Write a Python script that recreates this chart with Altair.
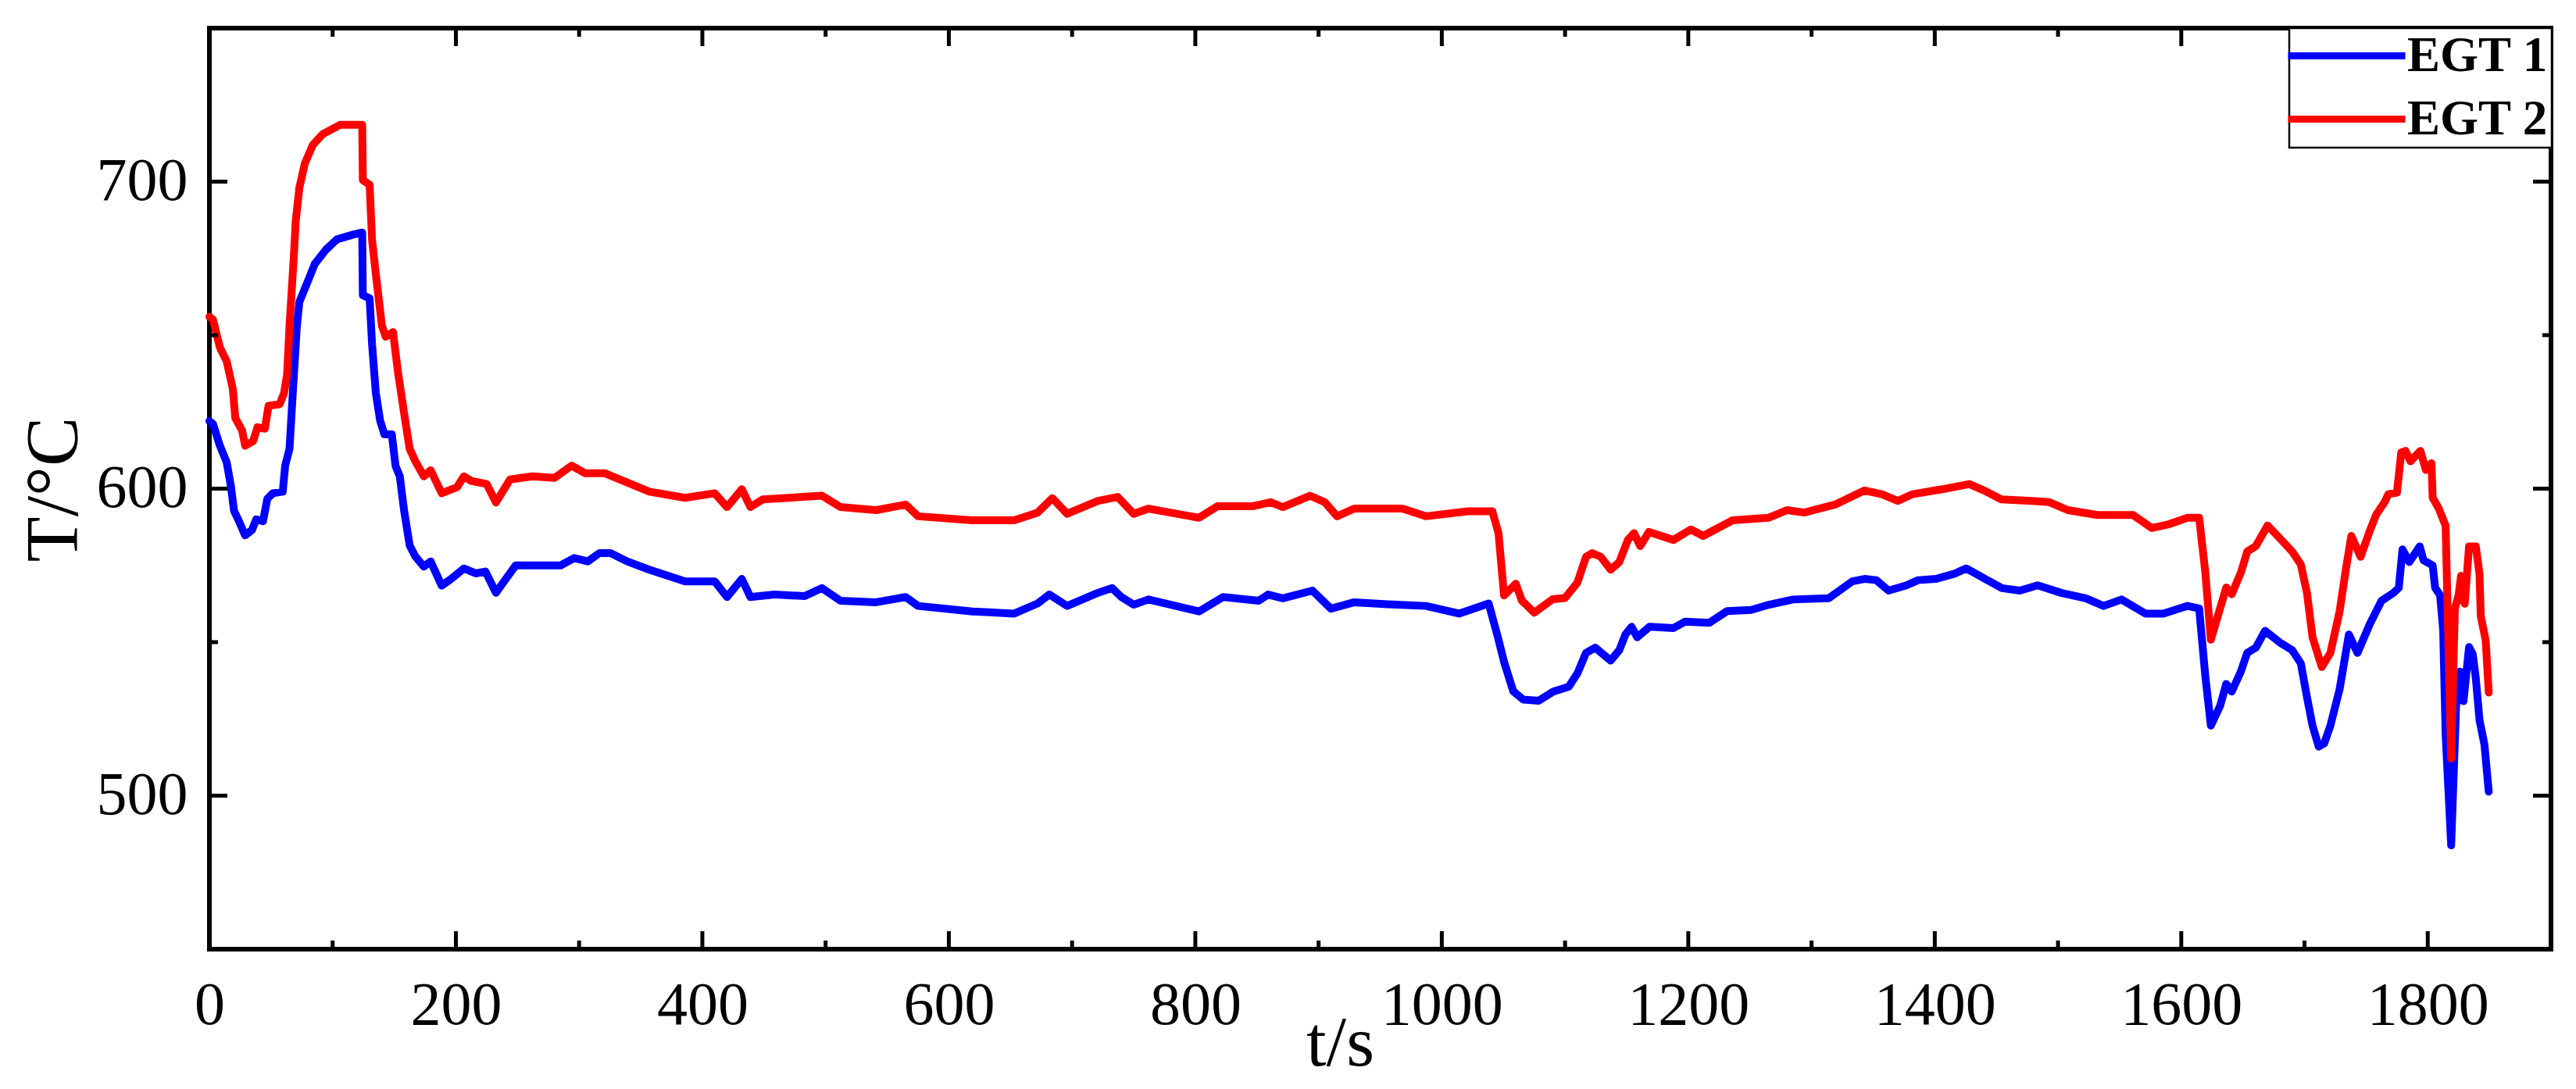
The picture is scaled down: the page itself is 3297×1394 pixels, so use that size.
import altair as alt
import pandas as pd

# ---- data ----
T1 = [0, 3, 8.5, 14, 17.5, 20, 24, 29, 34.5, 38,
      43.5, 47, 51.5, 59.5, 61.5, 65, 67.5, 71, 73, 81,
      85.5, 94.5, 103.5, 117, 124, 124.5, 130, 132, 135, 138.5,
      142, 148, 151, 154.5, 158, 162.5, 167, 174, 179.5, 188.5,
      196.5, 206.5, 216, 224, 232.5, 239.5, 248.5, 285, 296, 307,
      316.5, 325.5, 339, 357, 386, 410, 420, 432, 439, 458.5,
      483, 497, 512, 541, 565, 575, 619, 653, 672, 681.5,
      696, 720.5, 732.5, 740, 750, 762, 803, 822.5, 851.5, 859,
      871, 895, 910, 929, 963, 987, 1014, 1038, 1045.5, 1050.5,
      1058, 1066, 1078.5, 1090.5, 1103, 1110, 1117, 1124.5, 1137, 1144,
      1149, 1154, 1158.5, 1168.5, 1188, 1197.5, 1217, 1231.5, 1251, 1265.5,
      1285, 1314, 1333, 1343, 1352.5, 1362.5, 1377, 1386.5, 1401, 1416,
      1425.5, 1435, 1454.5, 1469, 1483.5, 1503, 1522.5, 1537, 1551.5, 1571,
      1585.5, 1605, 1614.5, 1619.5, 1624, 1631.5, 1636.5, 1641, 1648.5, 1653.5,
      1660.5, 1668, 1680, 1690, 1697, 1702, 1706.5, 1711.5, 1716, 1721,
      1728.5, 1736, 1743, 1753, 1762.5, 1772, 1776.5, 1779.5, 1785, 1793.5,
      1796.5, 1804, 1806, 1810, 1812.5, 1814.5, 1819, 1823, 1826, 1829,
      1833.5, 1836.5, 1839, 1842, 1846, 1849.5]
EGT1 = [622, 621, 614, 608.6, 600.7, 592.8, 589.4, 584.8, 586.5, 590,
        589.4, 596.7, 598.5, 599, 607.5, 613, 630, 653, 660.8, 668.7,
        673.2, 677.8, 681.2, 682.8, 683.4, 663, 662, 647, 631.3, 622.2,
        617.7, 617.7, 607.5, 604, 592.8, 581.5, 578, 574.6, 576.3, 568.4,
        570.7, 574, 572.4, 573, 566.1, 570, 575, 575, 577.4, 576.3,
        579, 579, 576.3, 573.6, 569.8, 569.8, 564.7, 570.6, 564.7, 565.5,
        565, 567.6, 563.5, 563, 564.7, 561.8, 560, 559.3, 562.6, 565.5,
        561.8, 566, 567.6, 564.7, 562.2, 563.9, 560, 564.7, 563.5, 565.5,
        564.3, 566.8, 560.9, 563, 562.2, 561.8, 559.3, 562.6, 551.6, 543.6,
        534, 531.3, 530.9, 533.9, 535.5, 539.8, 546.5, 548.2, 544, 547.4,
        552.5, 555, 551.6, 555, 554.6, 556.7, 556.3, 560.1, 560.5, 562.2,
        563.9, 564.3, 569.8, 570.6, 570.2, 566.8, 568.5, 570.2, 570.6, 572.3,
        574, 571.9, 567.6, 566.8, 568.5, 566, 564.3, 561.8, 563.9, 559.3,
        559.3, 561.8, 561, 539, 522.8, 529.2, 536.4, 533.9, 540.6, 546.5,
        548.2, 553.7, 549.9, 547.4, 543.1, 532.1, 522.8, 516, 517, 522.8,
        534.7, 552.5, 546.5, 555.9, 563.5, 566, 567.7, 580.2, 576.1, 581.2,
        576.7, 575, 567.7, 565.3, 554, 520, 483.8, 529.1, 540.4, 530.8,
        548.4, 546.1, 538.2, 524.6, 516.6, 501.3]

T2 = [0, 3, 8.5, 14, 19, 21, 26.5, 29, 35.5, 39,
      45, 48, 57, 60.5, 63, 65, 68.5, 70, 73, 77.5,
      84, 92, 106, 124, 124.5, 130, 132, 135, 140, 143,
      149, 153, 158, 162.5, 167, 174, 179.5, 188.5, 201, 206.5,
      212.5, 225, 232.5, 244, 262, 280, 294, 305, 321, 339,
      357, 386, 410, 420, 432, 439, 449, 497, 512, 541,
      565, 575, 619, 653, 672, 684, 696, 721, 737, 750,
      762, 803, 818, 847, 861, 871, 893, 905, 915, 929,
      968, 987, 1021, 1041, 1046, 1050.5, 1060, 1065, 1075, 1090,
      1100, 1110, 1117, 1122, 1129, 1137, 1144, 1151, 1156, 1161,
      1168, 1188, 1202, 1212, 1236, 1265, 1280, 1294, 1319, 1343,
      1357, 1370, 1382, 1406, 1428, 1440, 1454, 1479, 1493, 1508,
      1532, 1547, 1561, 1576, 1590, 1605, 1614.5, 1619.5, 1624, 1631.5,
      1636.5, 1641, 1648.5, 1653.5, 1660.5, 1670, 1680, 1690, 1697, 1702,
      1706.5, 1714, 1721, 1728.5, 1733.5, 1738, 1745.5, 1753, 1758, 1765,
      1768, 1775, 1778.5, 1782, 1786, 1794, 1798.5, 1803, 1804, 1809,
      1814.5, 1816.5, 1819, 1822, 1825, 1827, 1830, 1833.5, 1839, 1842,
      1843, 1847, 1849.5]
EGT2 = [656, 655, 646, 641.5, 632.5, 623, 619, 614, 615.5, 620,
        619.5, 627, 627.5, 631, 637, 653, 675.5, 687, 698, 706,
        712, 715.5, 718.5, 718.5, 700.5, 699, 681, 670, 653, 649.5,
        651, 638, 624.5, 613, 609, 604, 606, 598.5, 600.5, 604,
        602.5, 601.5, 595.5, 603, 604, 603.5, 607.5, 605, 605, 602,
        599, 597, 598.5, 594, 599.8, 594, 596.5, 597.7, 594, 593,
        594.8, 591, 589.7, 589.7, 592.2, 596.9, 591.8, 596, 597.3, 591.8,
        593.5, 590.5, 594.3, 594.3, 595.6, 594, 597.7, 595.6, 591, 593.5,
        593.5, 591, 592.6, 592.6, 585.5, 565.2, 569, 563.5, 559.6, 564,
        564.4, 569.4, 577.8, 579, 577.8, 573.6, 576.1, 583.3, 585.5, 581.3,
        585.9, 583.3, 586.7, 584.6, 589.7, 590.5, 593, 592.2, 594.8, 599.4,
        598.2, 596, 598.2, 599.8, 601.5, 599.4, 596.5, 596, 595.6, 593,
        591.4, 591.4, 591.4, 587.2, 588.4, 590.5, 590.5, 572.8, 550.8, 561,
        567.8, 565.6, 572.8, 579.5, 581.3, 588, 583.8, 579.5, 575.3, 566,
        551.6, 541.9, 546.5, 560.1, 573.6, 584.6, 577.8, 586.3, 591.4, 595.6,
        598.2, 598.7, 611.8, 612.3, 608.9, 612.3, 606.1, 608.3, 597, 593.5,
        587.9, 554, 512.1, 560.8, 565.3, 571.6, 562.5, 581.2, 581.2, 572.1,
        558.5, 550.6, 533.6]

SERIES = ["EGT 1", "EGT 2"]
COLORS = ["#0000ff", "#ff0000"]

X_MAJOR = [0, 200, 400, 600, 800, 1000, 1200, 1400, 1600, 1800]
X_MINOR = [100, 300, 500, 700, 900, 1100, 1300, 1500, 1700, 1900]
Y_MAJOR = [500, 600, 700]
Y_MINOR = [450, 550, 650, 750]
X_DOMAIN = [0, 1900]
Y_DOMAIN = [450, 750]

# ---- layout / style ----
W, H = 2997, 1179
FONT = "Liberation Serif"
MAJ, MIN = 23, 11

df = pd.concat([
    pd.DataFrame({"t": T1, "T": EGT1, "series": SERIES[0]}),
    pd.DataFrame({"t": T2, "T": EGT2, "series": SERIES[1]}),
], ignore_index=True)

xs = alt.Scale(domain=X_DOMAIN, nice=False, zero=False)
ys = alt.Scale(domain=Y_DOMAIN, nice=False, zero=False)

x_axis = alt.Axis(
    values=X_MAJOR, format="d", ticks=False, domain=False, grid=False,
    labelFont=FONT, labelFontSize=78, labelPadding=33, labelColor="black",
    labelFlush=False, labelOverlap=False,
    title="t/s", titleFont=FONT, titleFontSize=92, titleFontWeight="normal",
    titleColor="black", titleX=1447, titleY=148, titleAlign="center",
    titleBaseline="alphabetic")
y_axis = alt.Axis(
    values=Y_MAJOR, format="d", ticks=False, domain=False, grid=False,
    labelFont=FONT, labelFontSize=78, labelPadding=28, labelColor="black",
    labelFlush=False, labelOverlap=False,
    title="T/°C", titleFont=FONT, titleFontSize=95, titleFontWeight="normal",
    titleColor="black", titleAngle=270, titleX=-199, titleY=590,
    titleAlign="center", titleBaseline="middle")

lines = alt.Chart(df).mark_line(strokeWidth=10, strokeJoin="round", strokeCap="round").encode(
    x=alt.X("t:Q", scale=xs, axis=x_axis),
    y=alt.Y("T:Q", scale=ys, axis=y_axis),
    color=alt.Color("series:N", scale=alt.Scale(domain=SERIES, range=COLORS),
                    legend=alt.Legend(
                        title=None, orient="none", legendX=2662, legendY=0,
                        direction="vertical", symbolType="M-1,0H5", symbolSize=2500,
                        symbolStrokeWidth=9, symbolOffset=-12,
                        labelFont=FONT, labelFontSize=63, labelFontWeight="bold",
                        labelColor="black", labelOffset=96, labelLimit=600,
                        padding=4, rowPadding=17, fillColor="white",
                        strokeColor="black")),
)


def xticks(vals, y0, y1):
    return alt.Chart(pd.DataFrame({"t": vals})).mark_rule(color="black", strokeWidth=5).encode(
        x=alt.X("t:Q", scale=xs, axis=x_axis), y=alt.value(y0), y2=alt.value(y1))


def yticks(vals, x0, x1):
    return alt.Chart(pd.DataFrame({"T": vals})).mark_rule(color="black", strokeWidth=5).encode(
        y=alt.Y("T:Q", scale=ys, axis=y_axis), x=alt.value(x0), x2=alt.value(x1))


layers = [
    lines,
    xticks(X_MAJOR, H, H - MAJ), xticks(X_MINOR, H, H - MIN),
    xticks(X_MAJOR, 0, MAJ), xticks(X_MINOR, 0, MIN),
    yticks(Y_MAJOR, 0, MAJ), yticks(Y_MINOR, 0, MIN),
    yticks(Y_MAJOR, W, W - MAJ), yticks(Y_MINOR, W, W - MIN),
]

chart = alt.layer(*layers).properties(
    width=W, height=H,
    autosize=alt.AutoSizeParams(type="none"),
    padding={"left": 260, "top": 28, "right": 16, "bottom": 170},
    background="white",
).configure_view(
    stroke="black", strokeWidth=6
).configure_legend(
    strokeWidth=2.5
)

chart.save("out.html", embed_options={"renderer": "svg", "actions": False})
